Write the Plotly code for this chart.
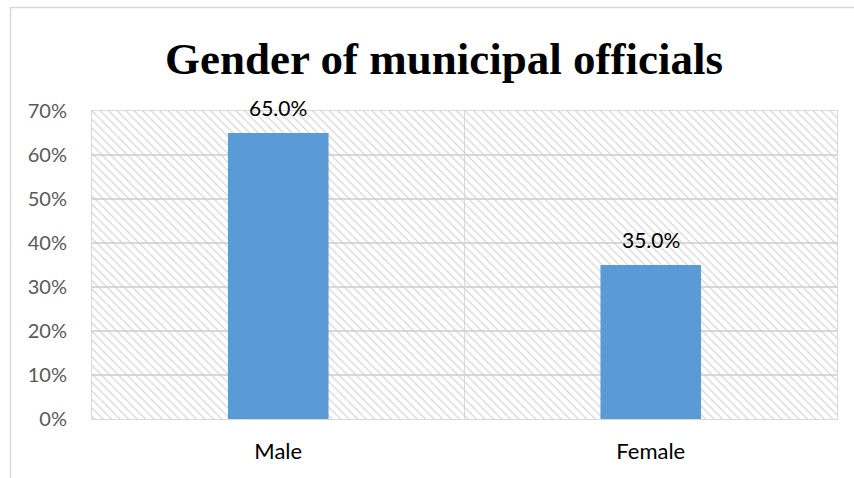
import plotly.graph_objects as go

# Chart data
categories = ["Male", "Female"]
shares = [0.65, 0.35]
y_ticks = [0.0, 0.1, 0.2, 0.3, 0.4, 0.5, 0.6, 0.7]
y_tick_labels = ["0%", "10%", "20%", "30%", "40%", "50%", "60%", "70%"]

Y_MAX = 0.7
GRID = "#d9d9d9"
positions = list(range(len(categories)))
n = len(categories)

fig = go.Figure()

# Hatched plot-area background (fine diagonal lines, transparent between them)
fig.add_trace(go.Bar(
    x=[(n - 1) / 2], y=[Y_MAX], width=[n],
    marker=dict(color="#cccccc", line=dict(width=0),
                pattern=dict(shape="\\", size=6, solidity=0.17, fillmode="replace")),
    hoverinfo="skip", showlegend=False,
))

# Data bars
fig.add_trace(go.Bar(
    x=positions, y=shares, width=0.27,
    marker=dict(color="#5b9bd5", line=dict(width=0)),
    hoverinfo="skip", showlegend=False,
))

# Value labels above each bar
for xp, v in zip(positions, shares):
    fig.add_annotation(x=xp, y=v, text=f"{v:.1%}", showarrow=False,
                       yanchor="bottom", yshift=11,
                       font=dict(family="Lato", size=21, color="#000000"))

L, R, T, B = 92, 17, 111, 59
W, H = 854, 478
pw, ph = W - L - R, H - T - B

fig.update_layout(
    width=W, height=H,
    margin=dict(l=L, r=R, t=T, b=B),
    paper_bgcolor="white", plot_bgcolor="white",
    barmode="overlay",
    title=dict(text="<b>Gender of municipal officials</b>",
               font=dict(family="Liberation Serif", size=45, color="#000000"),
               x=(444 - L) / pw, xref="paper", xanchor="center",
               y=1 - 58 / H, yref="container", yanchor="middle"),
    xaxis=dict(range=[-0.5, n - 0.5], tickvals=positions, ticktext=categories,
               tickfont=dict(family="Lato", size=22, color="#000000"),
               showgrid=False, zeroline=False, ticks="", ticklabelstandoff=13,
               showline=True, linecolor=GRID, linewidth=1, mirror=True,
               minor=dict(tickvals=[0.5], showgrid=True, gridcolor=GRID, gridwidth=1)),
    yaxis=dict(range=[0, Y_MAX], tickvals=y_ticks, ticktext=y_tick_labels,
               tickfont=dict(family="Lato", size=20, color="#595959"),
               showgrid=True, gridcolor=GRID, gridwidth=1.5, zeroline=False,
               ticks="", ticklabelstandoff=20,
               showline=True, linecolor=GRID, linewidth=1, mirror=True),
)

# Outer chart frame
fig.add_shape(type="rect", xref="paper", yref="paper",
              x0=(10.5 - L) / pw, x1=(W + 5 - L) / pw,
              y0=-(B + 5) / ph, y1=(ph + T - 7.5) / ph,
              line=dict(color="#d9d9d9", width=1.5), layer="below")

fig.write_html("out.html")
